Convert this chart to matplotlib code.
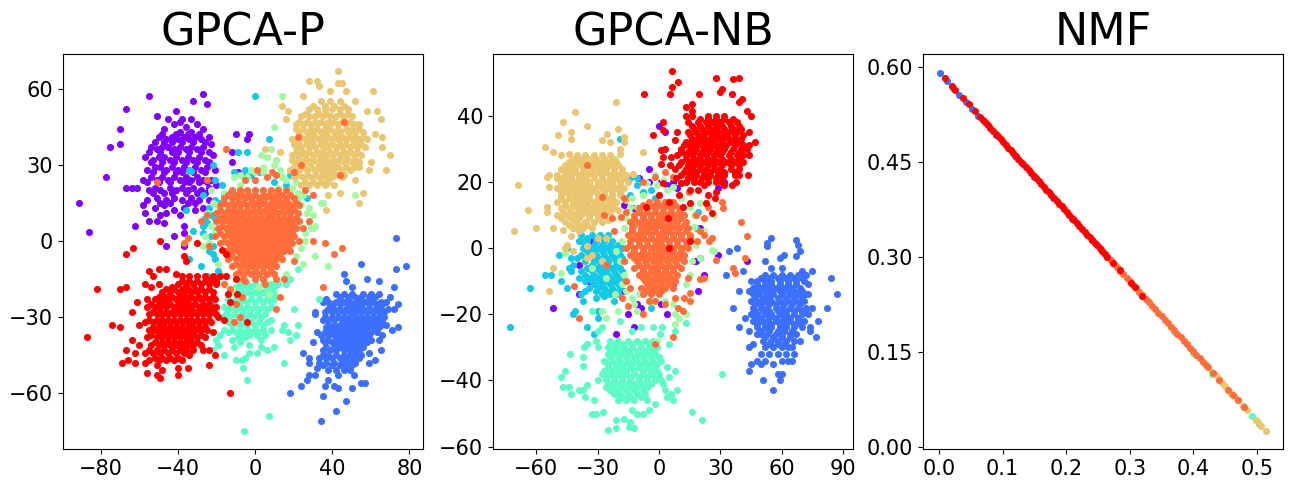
import numpy as np
import matplotlib
matplotlib.use('Agg')
from matplotlib import pyplot as plt

# colours of the 8 groups, drawn in this order
purple, blue, cyan, aqua, green, sand, orange, red = ('#8000ff', '#3c6ffb', '#16c8e8', '#5cfbc7',
                                                      '#a3f9a3', '#ebc671', '#ff6d3a', '#ff0000')

# dense parts are kept as {y: [x, x, ...]}, loose points as (x, y)
# ---------- GPCA-P ----------
p_purple_core = {46: [-42, -30], 45: [-36], 44: [-47, -27], 43: [-39, -33],
                 41: [-50, -43, -37, -31, -24], 40: [-46, -40, -34, -28],
                 37: [-54, -48, -45, -39, -33, -27], 36: [-51, -42, -36, -30], 38: [-23],
                 33: [-57, -50, -47, -41, -35, -29], 32: [-53, -44, -38, -32, -26], 34: [-22],
                 29: [-52, -49, -43, -37, -31, -25], 28: [-56, -46, -40, -34, -28, -21],
                 25: [-54, -48, -42, -36, -30], 24: [-58, -51, -45, -39, -33, -27, -23],
                 21: [-52, -44, -38, -32, -24], 20: [-55, -49, -41, -35, -28], 22: [-20],
                 17: [-51, -42, -33], 16: [-56, -46, -38, -29, -24],
                 14: [-58, -47], 13: [-52, -37, -27], 12: [-42, -31]}
p_purple_fill = {48: [-45, -38, -33], 47: [-39], 42: [-48, -41, -35, -29], 39: [-52, -47, -43, -38, -32, -26],
                 35: [-55, -49, -43, -40, -34, -28, -24], 31: [-54, -48, -42, -36, -30, -24], 27: [-53, -47, -41, -38, -32, -26],
                 23: [-56, -50, -44, -37, -34, -29, -25], 19: [-53, -47, -43, -36, -30, -26], 15: [-49, -44, -35, -31], 10: [-49, -39]}
p_purple_loose = [(-91, 15), (-86, 3.5), (-77, 25), (-75, 37), (-70, 38), (-70, 44), (-67, 52), (-55, 57),
                  (-27, 58), (-32, 55), (-25, 54), (-51, 49), (-41, 51), (-3, 42), (-4, 40), (-10, 42),
                  (-12, 31), (-12, 35), (-9, 27), (-67, 21), (-64, 21), (-61, 21), (-62, 6), (-55, 8),
                  (-51, 8), (-47, 7), (-57, 11), (-46, 11), (-42, 2), (-37, 6), (-37, 3), (-46, -2), (-37, -2)]
p_blue_core = {-21: [42, 46, 50, 56, 60, 64], -24: [38, 42, 46, 49, 53, 57, 61, 65, 68],
               -27: [38, 41, 44, 47, 50, 53, 56, 59, 62, 65, 69], -30: [36, 40, 43, 46, 49, 52, 55, 58, 61, 64, 67],
               -33: [38, 41, 44, 47, 50, 53, 56, 59, 62, 65, 68], -36: [36, 39, 42, 45, 48, 51, 54, 57, 60, 63],
               -39: [35, 38, 42, 45, 48, 51, 54, 57, 60, 64], -42: [37, 41, 44, 47, 50, 53, 56],
               -45: [35, 38, 42, 46, 49, 52, 55], -48: [33, 37, 41, 45, 49, 52], -51: [38, 42, 46, 49]}
p_blue_fill = {-22: [44, 48, 52, 55, 59, 62], -25: [40, 44, 48, 51, 55, 59, 63, 66], -28: [36, 40, 43, 46, 49, 52, 55, 58, 61, 64, 67],
               -31: [38, 41, 45, 48, 51, 54, 57, 60, 63, 66], -34: [37, 40, 43, 46, 49, 52, 55, 58, 61, 64],
               -37: [34, 38, 41, 44, 47, 50, 53, 56, 59], -40: [36, 40, 43, 46, 49, 52, 55, 58], -43: [35, 39, 42, 46, 49, 52, 54],
               -46: [33, 37, 40, 44, 47, 50, 54], -49: [35, 40, 44, 47, 50]}
p_blue_loose = [(73, 1), (55, -9), (78, -10), (73, -11), (46, -13), (47, -16), (58, -15), (50, -18), (64, -16),
                (72, -18), (70, -22), (74, -25), (72, -27), (74, -34), (71, -35), (37, -23), (35, -24), (31, -28),
                (31, -29), (35, -31), (32, -36), (30, -40), (25, -44), (28, -46), (28, -48), (32, -50), (31, -53),
                (28, -53), (27, -55), (24, -57), (18, -60), (34, -71), (42, -67), (47, -63), (35, -61), (36, -57),
                (41, -57), (43, -58), (50, -58), (55, -56), (57, -56), (51, -53), (43, -53), (38, -55), (62, -47),
                (59, -48), (65, -43), (59, -44), (66, -37)]
p_cyan = [(0, 57), (7, 40), (-9, 35), (-4, 35), (-34, 28), (-33, 27.5), (-22, 30), (-21, 24), (-17, 22), (-27, 18),
          (-36, 12), (-32, 4), (-23, 10), (-25, 7), (-21, 9), (-27, 6), (-22, -2), (-22, -5), (-21, -7), (-34, -7),
          (-11, 27), (-7, 26), (-2, 26), (-29, -35), (-22, -24), (-13, 19), (-16, 18), (-28, -10), (22, 34),
          (-20, 4), (-23, 2), (-24, 13), (-18, 15), (27, 17), (16, 22), (10, 23), (-19, -12), (-25, -14),
          (-21, 16), (-26, 9), (-27, 3), (-24, -4), (-5, 28), (2, 27), (18, 26)]
p_aqua_core = {-17: [-8, -4, 0, 4, 8, 12], -20: [-12, -8, -4, 0, 4, 8], -23: [-14, -10, -6, -2, 2, 6, 10],
               -26: [-16, -12, -8, -4, 0, 4, 8], -29: [-15, -11, -7, -3, 1, 5], -32: [-14, -10, -6, -2, 2, 6],
               -35: [-16, -12, -8, -4, 0, 4], -37: [-3, 1, 5]}
p_aqua_fill = {-18: [-10, -6, -2, 2, 6, 10], -21: [-14, -10, -6, -2, 2, 6, 10], -24: [-12, -8, -4, 0, 4, 8],
               -27: [-14, -10, -6, -2, 2, 6], -30: [-17, -13, -9, -5, -1, 3], -33: [-12, -8, -4, 0, 4],
               -36: [-14, -10, -6, -2, 2], -38: [-9, -5]}
p_aqua_loose = [(-5.5, -75), (7, -69), (-4, -55), (-6, -50), (-10, -47), (-7, -47), (15, -48), (-16, -45), (-5, -46),
                (-3, -44), (1, -44), (3, -42), (6, -43), (10, -42), (18, -39), (21, -37), (17, -36), (14, -35), (15, -33),
                (22, -33), (20, -27), (8, -31), (8, -35), (33, -23), (18, -15), (16, -17), (22, -11), (10, -22), (-12, -39),
                (-20, -39), (-19, -41), (-11, -42), (-18, -37), (-6, -38), (-8, -40), (-3, -41), (3, -39), (-22, -43)]
p_green = [(10, 45), (14, 57), (8, 36), (3, 34), (6, 33), (11, 32), (10, 30), (4, 27), (-4, 25), (-11, 25), (18, 19),
           (22, 19), (34, 15), (35, 15), (30, 10), (31, 6), (29, 5), (22, 6), (26, 0), (31, -6), (25, -9), (38, -10),
           (-23, 20), (-20, 14), (-18, 10), (-27, -2), (-30, -1), (52, 18), (7, -21), (-8, 22), (0, 27), (14, 25),
           (24, 14), (27, 11), (26, 3), (21, -6), (16, -13), (-23, 6), (-24, -1), (-19, -9), (-17, -14), (-12, -19),
           (2, -18), (13, 28), (21, 23), (25, 18), (-16, 19), (-21, 3), (28, 7), (12, 21),
           (-2, 28), (-8, 26), (4, 29), (16, 24), (19, 21), (23, 17), (28, 13), (30, 5), (24, -3), (-22, 15), (-25, 11), (-26, 2)]
p_sand_core = {55: [34, 39, 44], 52: [28, 32, 36, 40, 44, 48], 49: [24, 28, 31, 35, 39, 42, 46, 50],
               46: [21, 25, 29, 32, 36, 39, 43, 47, 51, 54], 43: [23, 27, 30, 34, 37, 41, 44, 48, 52, 56],
               40: [19, 22, 26, 29, 33, 36, 40, 43, 47, 50, 54, 58], 37: [21, 24, 28, 31, 35, 38, 42, 45, 49, 53, 57],
               34: [19, 23, 26, 30, 33, 37, 40, 44, 47, 51, 55], 31: [21, 25, 28, 32, 35, 39, 42, 46, 50, 54],
               28: [18, 23, 27, 31, 34, 38, 41, 45, 49], 25: [20, 25, 29, 33, 37, 40, 45], 22: [24, 28, 32, 36, 41]}
p_sand_fill = {53: [30, 36, 41, 46], 50: [26, 33, 37, 44, 48], 47: [23, 27, 31, 34, 38, 41, 45, 49],
               44: [21, 25, 29, 32, 36, 39, 43, 47, 50, 54], 41: [24, 28, 31, 35, 38, 42, 45, 49, 52, 56],
               38: [20, 23, 27, 30, 34, 37, 40, 44, 47, 51, 55], 35: [21, 25, 28, 32, 35, 39, 42, 46, 49, 53],
               32: [19, 23, 27, 30, 34, 37, 41, 44, 48, 52], 29: [20, 25, 29, 33, 36, 40, 43, 47, 51],
               26: [22, 27, 31, 35, 39, 42, 46], 23: [26, 30, 34, 38]}
p_sand_loose = [(43, 67), (28, 63), (32, 63), (33, 61), (43, 62), (45, 62), (61, 59), (47, 59), (39, 59), (52, 55), (25, 57),
                (14, 53), (17, 51), (16, 48), (58, 51), (63, 51), (65, 48), (62, 42), (66, 41), (66, 37), (70, 34),
                (68, 28), (60, 31), (59, 28), (54, 29), (56, 19), (54, 15), (44, 19), (38, 18), (37, 12), (52, 24),
                (5, 36), (13, 35)]
p_orange_core = {20: [-12, -8, -4, 0, 4, 8, 12, 16], 17: [-16, -12, -9, -5, -2, 2, 5, 9, 12, 16, 20],
                 14: [-18, -14, -11, -8, -4, -1, 2, 6, 9, 12, 15, 19, 23], 11: [-20, -16, -13, -10, -6, -3, 0, 3, 6, 9, 12, 15, 18, 22],
                 8: [-20, -17, -14, -11, -8, -5, -2, 1, 4, 7, 10, 13, 16, 19, 23], 5: [-19, -15, -12, -9, -6, -3, 0, 3, 6, 9, 12, 15, 18, 21],
                 2: [-21, -16, -13, -10, -7, -4, -1, 2, 5, 8, 11, 14, 17, 20], -1: [-18, -14, -11, -8, -5, -2, 1, 4, 7, 10, 13, 16, 19],
                 -4: [-15, -12, -9, -6, -3, 0, 3, 6, 9, 12, 15, 18], -7: [-14, -10, -7, -4, -1, 2, 5, 8, 11, 14],
                 -10: [-12, -8, -5, -2, 1, 4, 7, 11], -13: [-10, -6, -2, 2, 6, 10]}
p_orange_fill = {18: [-14, -10, -7, -3, 0, 4, 7, 11, 14, 18], 15: [-16, -12, -9, -6, -2, 0, 4, 8, 11, 14, 17, 21],
                 12: [-18, -14, -11, -8, -4, -1, 2, 5, 8, 10, 14, 17, 20], 9: [-18, -15, -12, -9, -6, -3, 0, 3, 6, 9, 12, 15, 18, 21],
                 6: [-17, -13, -10, -7, -4, -1, 2, 5, 8, 11, 14, 17, 20], 3: [-18, -14, -11, -8, -5, -2, 1, 4, 7, 10, 13, 16, 19],
                 0: [-16, -12, -9, -6, -3, 0, 3, 6, 9, 12, 15, 18], -3: [-13, -10, -7, -4, -1, 2, 5, 8, 11, 14, 17],
                 -6: [-12, -8, -5, -2, 1, 4, 7, 10, 13], -9: [-10, -6, -3, 0, 3, 6, 9], -12: [-8, -4, 0, 4, 8], -15: [-6, 0, 4]}
p_orange_loose = [(1, 28), (9, 27), (6, 25), (-5, 24), (0, 24), (11, 26), (20, 27), (24, 30), (22, 41), (46, 47), (44, 26),
                  (-15, 36), (-51, 23), (-25, 24), (26, 20), (30, 18), (28, 8), (30, 0), (36, -1), (45, -3), (41, -5), (25, 5),
                  (23, 0), (-28, 8), (-25, 10), (-35, 1), (-37, -1), (-24, -2), (35, -18), (20, -8), (13, -22), (11, -27),
                  (-8, -30), (-11, -32), (-7, -22), (-10, -25), (5, -17), (-16, -17), (-13, -19), (-5, -16), (11, -15), (15, -15)]
p_red_core = {-14: [-38, -34, -30, -26, -22], -17: [-40, -36, -32, -28, -24, -20], -20: [-48, -44, -40, -37, -33, -30, -26, -22],
              -23: [-52, -48, -45, -41, -38, -35, -31, -28, -24, -21], -26: [-56, -52, -49, -46, -42, -39, -36, -33, -29, -26, -23],
              -29: [-55, -51, -48, -45, -42, -39, -36, -33, -30, -27, -24, -20], -32: [-57, -53, -50, -47, -44, -41, -38, -35, -32, -29, -26, -23],
              -35: [-55, -52, -49, -46, -43, -40, -37, -34, -31, -28, -25], -38: [-56, -51, -48, -45, -42, -39, -36, -33, -30, -26],
              -41: [-60, -54, -50, -47, -44, -41, -38, -35, -32, -28], -44: [-62, -57, -53, -49, -45, -41, -37, -34], -47: [-55, -50, -46, -38]}
p_red_fill = {-16: [-38, -34, -30, -26, -22], -19: [-46, -42, -38, -35, -31, -28, -24], -22: [-50, -46, -43, -39, -36, -33, -29, -26, -22],
              -25: [-54, -50, -47, -44, -40, -37, -34, -31, -27, -24], -28: [-53, -49, -46, -43, -40, -37, -34, -31, -28, -25, -22],
              -31: [-55, -51, -48, -45, -42, -39, -36, -33, -30, -27, -24], -34: [-53, -50, -47, -44, -41, -38, -35, -32, -29, -26],
              -37: [-54, -50, -47, -44, -41, -38, -35, -32, -28], -40: [-52, -48, -45, -42, -39, -36, -33, -30],
              -43: [-55, -51, -47, -43, -39, -36, -32], -46: [-52, -48, -44, -40]}
p_red_loose = [(-87, -38), (-82, -19), (-74, -33), (-70, -34), (-70, -19), (-67, -18), (-67, -5), (-63, -3), (-49, 0), (-55, -12),
               (-50, -11), (-46, -11), (-37, -6), (-36, -8), (-30, -1), (-17, -3.5), (-15, -5), (-13, -60), (-4, -32), (-14, -21),
               (-9.5, -21), (-13, -24), (-10, -15), (-18, -14), (-15, -14), (-21, -45), (-24, -49), (-35, -50), (-40, -50), (-40, -53),
               (-48, -51), (-49, -54), (-51, -53), (-56, -52), (-51, -49), (-57, -48), (-62, -48), (-66, -47), (-69, -48), (-67, -43),
               (-64, -39), (-60, -33), (-64, -28), (-61, -24), (-56, -23), (-57, -17), (-54, -18), (-53, -14), (-50, -17), (-43, -18),
               (-41, -13), (-34, -45), (-42, -47), (-22, -36), (-16, -31), (-19, -30), (-20, -26), (-20, -16), (-23, -15), (-27, -43), (-24, -43)]

# ---------- GPCA-NB ----------
n_purple = [(0, 37), (3, 35), (-5, 24), (-5, 20), (1, 20), (7, 20), (-10, 21), (4, 19), (9, 18), (15, 26), (29, 18), (32, 20), (29, -2),
            (20, 6), (20, -3), (18, -4), (43, -4), (22, -8), (19, -13), (-39, -14), (-52, -18), (-15, -20), (4, -20), (-12, -24), (1, -17),
            (-11, -17), (-9, -18), (-21, -26), (-39, -5), (-17, -13), (7, -11), (-17, 13), (-12, 12), (-34, -10), (-33, 2), (17, -4)]
n_blue_core = {-8: [52, 56, 60, 64, 68, 72], -10: [48, 52, 55, 59, 63, 67, 71], -12: [46, 50, 53, 57, 61, 65, 69],
               -14: [46, 49, 53, 56, 60, 64, 68, 72], -16: [45, 48, 52, 55, 59, 63, 67, 71], -18: [46, 50, 53, 57, 60, 64, 68, 72, 75],
               -20: [45, 48, 52, 55, 59, 62, 66, 70, 73], -22: [46, 50, 53, 57, 60, 64, 68, 71], -24: [48, 52, 55, 59, 62, 66, 70],
               -26: [50, 53, 57, 60, 64, 67], -28: [51, 55, 58, 62, 66], -30: [52, 56, 60, 63], -32: [50, 54, 58, 62], -34: [48, 52]}
n_blue_fill = {-9: [50, 54, 58, 62, 66, 70], -11: [48, 52, 55, 59, 63, 67], -13: [48, 52, 55, 59, 63, 66, 70], -15: [47, 51, 54, 58, 62, 66, 70],
               -17: [47, 50, 54, 57, 61, 65, 69], -19: [47, 51, 54, 58, 62, 66, 70], -21: [47, 50, 54, 57, 61, 64, 68],
               -23: [48, 52, 55, 59, 62, 66, 69], -25: [50, 54, 58, 61, 65], -27: [52, 56, 60, 64], -29: [54, 58, 61]}
n_blue_loose = [(87, -14), (84, -9), (82, -18), (78, -22), (77, -27), (74, -25), (74, -24), (69, -28), (65, -30), (66, -32), (65, -34),
                (63, -34), (60, -34), (56, -35), (60, -38), (58, -38), (59, -40), (56, -43), (51, -40), (44, -37), (45, -35), (50, -35),
                (44, -30), (46, -29), (39, -24), (36, -18), (39, -13), (33, -8), (41, -7), (34, -1), (38, 0), (52, -4), (55, -6), (60, -6),
                (61, -2), (59, -3), (53, 1.5), (53, 0.5), (55, 3), (67, 2.5), (68, 1), (69, -1), (67, -2.5), (75, -7), (70, -7), (73, -11),
                (73, -14), (45, -10), (44, -13), (42, -21), (44, -25), (48, -26)]
n_cyan_core = {4: [-38, -33, -29, -25], 2: [-38, -35, -31, -27, -23], 0: [-37, -33, -30, -26, -22, -18], -2: [-38, -34, -31, -27, -23, -19],
               -4: [-36, -32, -29, -25, -21, -17], -6: [-35, -31, -27, -23, -19], -8: [-36, -32, -28, -25, -21],
               -10: [-36, -33, -29, -26, -22, -18], -12: [-34, -30, -27, -23, -19], -14: [-28, -24, -20]}
n_cyan_fill = {3: [-35, -31, -27], 1: [-36, -32, -28, -24, -20], -1: [-35, -32, -28, -24, -20], -3: [-35, -30, -26, -22, -18],
               -5: [-33, -29, -25, -21], -7: [-33, -29, -26, -22, -18], -9: [-34, -30, -27, -23, -19], -11: [-32, -28, -24, -20], -13: [-31, -26, -22]}
n_cyan_loose = [(-73, -24), (-63, -12), (-56, -8), (-53, -8), (-48, -10), (-45, -12), (-49, -2), (-43, -3), (-45, 0), (-40, -3), (-44, -6),
                (-42, -5), (-43, -7), (-39, -9), (-38, -7), (-42, -20), (-41, -19), (-35, -24), (-32, -26), (-30, -19), (-30, -21), (-38, -14),
                (-36, -13), (-37, -16), (-31, -15), (-27, -14.5), (-22, -16), (-4, -18), (-19, 33), (-14, 21), (-11, 21), (-11, 19), (-4, 17.5),
                (19, 11), (18, 6), (-39, 2), (-42, 6), (-8, 17), (-14, 16), (-2, 15)]
n_aqua_core = {-28: [-24, -20, -15, -11, -7, -3], -30: [-25, -21, -17, -13, -9, -5, -1], -32: [-25, -21, -18, -14, -10, -6, -2],
               -34: [-27, -23, -19, -15, -11, -7, -3, 1], -36: [-25, -21, -18, -14, -10, -6, -2], -38: [-28, -24, -20, -16, -12, -8, -4, 0],
               -40: [-30, -26, -22, -18, -14, -10, -6, -2], -42: [-26, -22, -18, -14, -10, -6], -44: [-22, -19, -15, -11, -7], -46: [-20, -16, -12]}
n_aqua_fill = {-29: [-22, -18, -13, -9, -5], -31: [-23, -19, -15, -11, -7, -3], -33: [-24, -20, -16, -12, -8, -4, 0],
               -35: [-25, -21, -17, -13, -9, -5, -1], -37: [-27, -23, -19, -16, -12, -8, -4, -1], -39: [-26, -22, -18, -14, -10, -6, -2],
               -41: [-24, -20, -16, -12, -8, -4], -43: [-24, -20, -16, -12, -8], -45: [-18, -14, -9]}
n_aqua_loose = [(-25, -55), (-21, -54.5), (-14.5, -54), (-12, -54.5), (21, -52), (16, -49.5), (31, -38), (-43.5, -32), (-46, -37), (-48, -39),
                (-47, -42), (-44, -42), (-43, -44), (-39, -43), (-37, -43), (-35, -41.5), (-36, -45), (-32, -46), (-31, -50), (-33, -50),
                (-27.5, -49.5), (-21, -52), (-17, -51.5), (-14, -52.5), (-13, -49), (-11, -50), (-8, -50), (-5, -49), (-6, -46), (-2, -47),
                (4, -45), (7, -46), (9, -43), (6, -44), (3, -43), (2, -41), (5, -39), (8, -37), (4, -36), (1, -40), (0, -33), (5, -29),
                (0.5, -26), (-3, -24), (1.5, -24), (8, -25), (13, -22.5), (-9, -24), (-13, -25), (-19, -22), (-28, -24), (-30, -25), (-31, -28),
                (-30, -30), (-35, -29), (-36.5, -30), (-37, -33), (-37, -35.5), (-33, -19), (-28, -19)]
n_green = [(-21.5, 27), (-2, 22), (-1, 19), (4, 17.5), (7, 18.5), (20, 13.5), (27, 10), (22, 5), (26, -0.5), (-11, 12.5), (-9, 10.5), (-17, 6),
           (-46, -1.5), (-48, -7.5), (-33, -6), (-26, -9), (-21.5, -14), (-20, -19), (-11, -19), (-28, -19), (-26, -21), (8, -20), (10, -21),
           (8, -23), (13, -20), (15, -8), (20, -3), (27, -1), (-16, -13), (-13, -15), (-10, -14), (-7, -13), (-17, -8), (-19, -4), (-21, -1),
           (-1, -28), (-12.5, 7), (-14, 12.5), (-6, 19.5), (2, 20.5), (15, 12.5), (17, 6.5), (-18, 2), (-16, 9), (-18, -11), (-12, -17), (-4, -16),
           (3, -16), (7, -17), (13, -11), (16, -4), (18, 1), (17, 10), (11, 15), (-8, 16), (-13, 15)]
n_sand_core = {28: [-40, -36, -32, -28, -24], 26: [-44, -40, -36, -33, -29, -25, -21], 24: [-48, -44, -41, -37, -33, -29, -26, -22, -18],
               22: [-50, -46, -43, -39, -35, -32, -28, -24, -20, -16], 20: [-48, -45, -41, -37, -34, -30, -26, -23, -19, -15],
               18: [-50, -46, -43, -39, -36, -32, -28, -25, -21, -17], 16: [-48, -44, -41, -37, -34, -30, -27, -23, -19],
               14: [-50, -46, -42, -39, -35, -32, -28, -25, -21], 12: [-48, -44, -40, -37, -33, -30, -26, -22],
               10: [-50, -45, -41, -38, -34, -30, -27], 8: [-46, -41, -36, -32, -28], 6: [-42, -37, -33]}
n_sand_fill = {27: [-42, -38, -34, -31, -27, -23], 25: [-46, -42, -38, -35, -31, -27, -24, -20], 23: [-46, -41, -37, -34, -30, -26, -22, -18],
               21: [-50, -47, -43, -39, -36, -32, -28, -24, -21, -17], 19: [-48, -44, -41, -38, -34, -30, -27, -23, -19],
               17: [-48, -45, -41, -38, -34, -31, -27, -23, -19], 15: [-48, -44, -40, -37, -34, -30, -26, -23],
               13: [-46, -42, -38, -35, -31, -28, -24], 11: [-47, -43, -39, -35, -32, -28, -24], 9: [-48, -43, -39, -34, -30], 7: [-44, -39, -35]}
n_sand_loose = [(-21, 44), (-41, 41), (-47, 38), (-35, 37), (-49.5, 34), (-43, 35), (-43, 33), (-25.5, 34.5), (-20, 36), (-17, 33.5), (-17, 32),
                (-28, 32.5), (-24, 32), (-56, 30.5), (-52, 29), (-19, 30), (-19, 28.5), (-8, 29), (-48, 28), (-44, 28.5), (-69, 19), (-64, 11.5),
                (-60, 6), (-71, 5), (-54, 22), (-55, 21.5), (-54, 18.5), (-55, 12.5), (-55, 11), (-52, 6), (-47, 5.5), (-12.5, 22.5), (-45, 1),
                (-46, 0), (-42, -1), (-52, -6), (-54, -13), (-35, 0.5), (-26, 3), (-16, 14.5), (-20, 11.5), (-25, 8.5), (-43, 3.5), (-39, 5),
                (-30, 3), (-33, -2), (-28, -4), (-35, -3)]
n_orange_core = {14: [-5, -1, 3, 7], 12: [-10, -6, -2, 2, 6, 10], 10: [-12, -8, -4, 0, 4, 8, 12], 8: [-14, -10, -6, -2, 1, 5, 9, 13],
                 6: [-13, -9, -5, -2, 2, 6, 10, 14], 4: [-15, -11, -8, -4, 0, 3, 7, 11, 15], 2: [-14, -10, -6, -2, 1, 5, 9, 13],
                 0: [-16, -12, -8, -4, -1, 3, 7, 11, 14], -2: [-14, -10, -6, -2, 1, 5, 9, 12], -4: [-17, -11, -7, -3, 0, 4, 8, 12],
                 -6: [-12, -8, -4, -1, 3, 7, 11], -8: [-10, -6, -2, 1, 5, 9], -10: [-16, -7, -3, 0, 4, 8], -12: [-14, -9, -5, -1, 3, 7],
                 -14: [-8, -4, 0], -16: [-5, -2]}
n_orange_fill = {13: [-8, -4, 0, 4, 8], 11: [-10, -6, -2, 2, 6, 10], 9: [-12, -8, -4, 0, 3, 7, 11], 7: [-12, -8, -4, 0, 4, 8, 12],
                 5: [-13, -9, -6, -2, 2, 5, 9, 13], 3: [-12, -8, -4, 0, 3, 7, 11, 15], 1: [-14, -10, -6, -2, 1, 5, 9, 13],
                 -1: [-12, -8, -4, 0, 3, 7, 11], -3: [-12, -8, -5, -2, 2, 6, 10], -5: [-10, -6, -2, 1, 5, 9], -7: [-8, -4, -1, 3, 7],
                 -9: [-8, -5, -1, 2, 6], -11: [-6, -3, 1, 5], -13: [-7, -3, 1]}
n_orange_loose = [(-35, 25), (-28, 15.5), (-27, 10), (-23, 9), (-18.5, 9.5), (-17, 15), (-16, 11), (-22, 5), (-8, 20), (-2, 21.5), (3, 23), (7, 21.5),
                  (14.5, 17), (18, 10), (22, 9), (40, 8), (43, 3.5), (31, 14), (31.5, 12), (24, 12.5), (20, 5), (22, 4), (26, 3), (24.5, 2), (18.5, 2),
                  (42, -3), (28, -3.5), (36, -6), (37, -7.5), (20, -9.5), (22, -9), (14, -9), (15, -13.5), (15, -16), (12, -15), (8, -15), (9.5, -18),
                  (11.5, -19), (3, -17), (-8, -20), (-15, -17.5), (-39, -21), (-41.5, -11.5), (-26, -5), (7, -27), (-2, -29), (-18, -15)]
n_red_core = {40: [16, 24, 28, 32], 38: [14, 19, 23, 26, 30, 34, 38], 36: [17, 21, 25, 28, 32, 36, 40], 34: [15, 19, 22, 26, 29, 33, 37, 41],
              32: [13, 17, 20, 24, 27, 31, 35, 39], 30: [11, 15, 18, 22, 25, 29, 32, 36, 40, 43], 28: [9, 13, 16, 20, 23, 27, 30, 34, 38, 41],
              26: [11, 15, 18, 22, 25, 29, 33, 37, 41], 24: [8, 13, 16, 20, 23, 27, 30, 35, 39], 22: [11, 15, 18, 22, 25, 29, 32, 37],
              20: [13, 17, 20, 24, 28, 31]}
n_red_fill = {39: [20, 24, 28, 32, 36], 37: [16, 20, 24, 28, 31, 35, 39], 35: [14, 18, 22, 25, 28, 31, 34, 38], 33: [16, 19, 22, 25, 28, 31, 34, 37, 40],
              31: [12, 15, 18, 21, 24, 27, 30, 33, 37, 41], 29: [11, 14, 17, 21, 24, 28, 31, 35, 39], 27: [13, 17, 20, 24, 27, 31, 35, 39],
              25: [10, 14, 17, 20, 24, 27, 31, 35, 39], 23: [12, 15, 18, 22, 25, 29, 32, 37], 21: [14, 17, 21, 24, 28, 31]}
n_red_loose = [(6.5, 53.5), (9.5, 50), (6.5, 48.5), (5.5, 46.5), (-7.5, 46.5), (28, 51.5), (39, 51.5), (36, 51), (31, 48), (30, 47), (35.5, 46.5),
               (19.5, 46.5), (40.5, 45), (39, 44), (43, 41.5), (45, 40), (47, 32), (44, 31), (44, 28), (44, 35), (43.5, 22), (39, 22), (37.5, 20),
               (32, 19), (35.5, 19), (16, 43.5), (13, 42.5), (16, 41.5), (13, 40), (2, 38), (2, 35.5), (-3, 34), (8, 32.5), (9, 35), (1, 29.5), (3, 30),
               (1, 25.5), (2, 27.5), (6, 27.5), (5.5, 25), (-6.5, 12.5), (0, 16), (2, 19.5), (5, 14), (10, 16), (11.5, 12.5), (4.5, 9), (15, 2), (5, 0),
               (26, 10.5), (24, 16), (28, 17), (27.5, 15), (23, 13.5), (15, 13.5), (11, 19.5), (15, 17.5), (19, 17.5), (22, 19), (8.5, 21)]

# ---------- NMF (points sit along the diagonal) ----------
m_blue = [(0.002, 0.590), (0.012, 0.578), (0.022, 0.567), (0.032, 0.556), (0.042, 0.545), (0.052, 0.534), (0.062, 0.523), (0.075, 0.509),
          (0.09, 0.492), (0.12, 0.459), (0.15, 0.426), (0.18, 0.393), (0.21, 0.360), (0.24, 0.326)]
m_aqua = [(0.37, 0.182), (0.40, 0.149), (0.43, 0.116), (0.46, 0.083), (0.492, 0.049), (0.503, 0.037)]
m_sand = [(0.43, 0.118), (0.435, 0.113), (0.44, 0.107), (0.445, 0.101), (0.45, 0.096), (0.455, 0.090), (0.46, 0.085), (0.465, 0.079),
          (0.47, 0.074), (0.478, 0.065), (0.485, 0.058), (0.498, 0.043), (0.502, 0.039), (0.506, 0.034), (0.514, 0.025)]
m_orange = [(0.255, 0.311), (0.26, 0.3057), (0.265, 0.300), (0.27, 0.2946), (0.275, 0.289), (0.28, 0.2836), (0.285, 0.278), (0.29, 0.2725),
            (0.295, 0.267), (0.30, 0.2615), (0.305, 0.256), (0.31, 0.2505), (0.315, 0.245), (0.32, 0.2394), (0.325, 0.234), (0.33, 0.2284),
            (0.335, 0.223), (0.34, 0.2173), (0.345, 0.212), (0.35, 0.2063), (0.355, 0.201), (0.36, 0.1953), (0.365, 0.190), (0.37, 0.1842),
            (0.375, 0.179), (0.38, 0.1732), (0.385, 0.168), (0.39, 0.1621), (0.395, 0.157), (0.40, 0.1511), (0.405, 0.146), (0.41, 0.1401),
            (0.415, 0.135), (0.42, 0.129), (0.423, 0.126), (0.431, 0.117), (0.441, 0.106), (0.455, 0.090), (0.463, 0.082), (0.470, 0.074), (0.480, 0.063)]
m_red = [(0.009, 0.582), (0.021, 0.569), (0.026, 0.564), (0.038, 0.551), (0.047, 0.541), (0.057, 0.530), (0.065, 0.521), (0.069, 0.5165),
         (0.073, 0.512), (0.077, 0.5077), (0.081, 0.503), (0.085, 0.4989), (0.089, 0.494), (0.093, 0.490), (0.097, 0.486), (0.101, 0.4812),
         (0.105, 0.477), (0.109, 0.4724), (0.113, 0.468), (0.117, 0.4635), (0.121, 0.459), (0.125, 0.4547), (0.129, 0.450), (0.133, 0.4459),
         (0.137, 0.441), (0.141, 0.437), (0.145, 0.433), (0.149, 0.4282), (0.153, 0.424), (0.157, 0.4194), (0.161, 0.415), (0.165, 0.4105),
         (0.169, 0.406), (0.173, 0.4017), (0.177, 0.397), (0.181, 0.3929), (0.185, 0.388), (0.189, 0.384), (0.193, 0.380), (0.197, 0.3752),
         (0.201, 0.371), (0.205, 0.3664), (0.209, 0.362), (0.213, 0.3575), (0.217, 0.353), (0.221, 0.3487), (0.225, 0.344), (0.229, 0.3399),
         (0.233, 0.335), (0.237, 0.3311), (0.241, 0.327), (0.245, 0.3222), (0.249, 0.318), (0.253, 0.3134), (0.257, 0.309), (0.261, 0.3046),
         (0.265, 0.300), (0.274, 0.290), (0.284, 0.279), (0.302, 0.259), (0.309, 0.252), (0.320, 0.239)]


def pts(core=None, fill=None, loose=()):
    rows = [(x, y) for d in (core or {}, fill or {}) for y, xs in d.items() for x in xs]
    return np.array(rows + list(loose), dtype=float)


titles = ['GPCA-P', 'GPCA-NB', 'NMF']
groups = [
    [(pts(p_purple_core, p_purple_fill, p_purple_loose), purple), (pts(p_blue_core, p_blue_fill, p_blue_loose), blue),
     (pts(loose=p_cyan), cyan), (pts(p_aqua_core, p_aqua_fill, p_aqua_loose), aqua), (pts(loose=p_green), green),
     (pts(p_sand_core, p_sand_fill, p_sand_loose), sand), (pts(p_orange_core, p_orange_fill, p_orange_loose), orange),
     (pts(p_red_core, p_red_fill, p_red_loose), red)],
    [(pts(loose=n_purple), purple), (pts(n_blue_core, n_blue_fill, n_blue_loose), blue),
     (pts(n_cyan_core, n_cyan_fill, n_cyan_loose), cyan), (pts(n_aqua_core, n_aqua_fill, n_aqua_loose), aqua),
     (pts(loose=n_green), green), (pts(n_sand_core, n_sand_fill, n_sand_loose), sand),
     (pts(n_orange_core, n_orange_fill, n_orange_loose), orange), (pts(n_red_core, n_red_fill, n_red_loose), red)],
    [(pts(loose=m_blue), blue), (pts(loose=m_aqua), aqua), (pts(loose=m_sand), sand), (pts(loose=m_orange), orange),
     (pts(loose=m_red), red)],
]
boxes = [(63, 423), (493, 853), (923, 1283)]
limits = [((-99.5, 87), (-82, 73.6)), ((-81.2, 94.9), (-60.7, 58.6)), ((-0.025, 0.541), (-0.003, 0.62))]
xticks = [[-80, -40, 0, 40, 80], [-60, -30, 0, 30, 60, 90], [0.0, 0.1, 0.2, 0.3, 0.4, 0.5]]
yticks = [[-60, -30, 0, 30, 60], [-60, -40, -20, 0, 20, 40], [0.00, 0.15, 0.30, 0.45, 0.60]]

W, H = 1289, 484
fig = plt.figure(figsize=(W / 100, H / 100), dpi=100)
for i in range(3):
    left, right = boxes[i]
    ax = fig.add_axes([left / W, (H - 449) / H, (right - left) / W, (449 - 54) / H])
    for xy, col in groups[i]:
        ax.scatter(xy[:, 0], xy[:, 1], s=26, color=col, linewidths=0)
    ax.set_xlim(limits[i][0])
    ax.set_ylim(limits[i][1])
    ax.set_xticks(xticks[i])
    ax.set_yticks(yticks[i])
    if i == 2:
        ax.set_xticklabels(['%.1f' % t for t in xticks[i]])
        ax.set_yticklabels(['%.2f' % t for t in yticks[i]])
    ax.tick_params(labelsize=15)
    ax.set_title(titles[i], fontsize=32)

plt.savefig('out.png', dpi=100)
